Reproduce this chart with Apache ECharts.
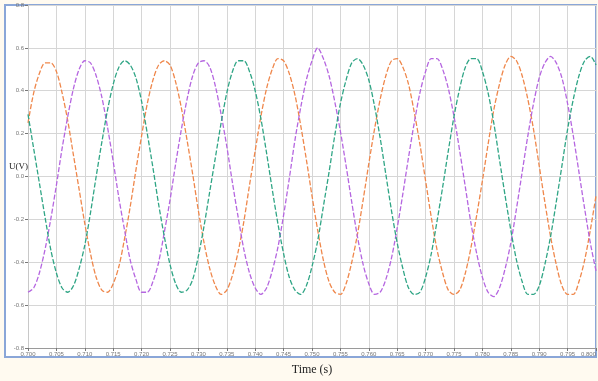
<!DOCTYPE html>
<html>
<head>
<meta charset="utf-8">
<script src="https://cdn.jsdelivr.net/npm/echarts@6/dist/echarts.min.js"></script>
<style>
  html, body { margin: 0; padding: 0; background: #fffaf0; }
  #chart { width: 598px; height: 381px; }
</style>
</head>
<body>
<div id="chart"></div>
<script>
// Sampling: 0.700 s to 0.800 s, one sample per millisecond
const tStart = 0.700;
const tStep = 0.001;
const sampleCount = 101;

// Phase voltages (V)
const phaseA = [
  0.25, 0.39, 0.48, 0.53, 0.53, 0.49, 0.39, 0.26, 0.10, -0.06,
  -0.22, -0.36, -0.47, -0.53, -0.54, -0.50, -0.42, -0.29, -0.14, 0.03,
  0.19, 0.34, 0.45, 0.52, 0.54, 0.52, 0.44, 0.32, 0.17, 0.01,
  -0.16, -0.31, -0.43, -0.51, -0.55, -0.53, -0.46, -0.35, -0.21, -0.04,
  0.12, 0.28, 0.41, 0.50, 0.55, 0.54, 0.48, 0.38, 0.24, 0.08,
  -0.09, -0.25, -0.39, -0.49, -0.54, -0.55, -0.50, -0.40, -0.27, -0.11,
  0.06, 0.22, 0.36, 0.47, 0.54, 0.55, 0.51, 0.43, 0.30, 0.15,
  -0.02, -0.19, -0.34, -0.45, -0.53, -0.55, -0.53, -0.45, -0.33, -0.18,
  -0.02, 0.15, 0.31, 0.43, 0.52, 0.56, 0.54, 0.47, 0.36, 0.22,
  0.05, -0.12, -0.28, -0.41, -0.51, -0.55, -0.55, -0.49, -0.39, -0.25,
  -0.09
];
const phaseB = [
  -0.54, -0.52, -0.45, -0.34, -0.20, -0.04, 0.13, 0.28, 0.41, 0.50,
  0.54, 0.53, 0.47, 0.37, 0.23, 0.07, -0.10, -0.25, -0.39, -0.48,
  -0.54, -0.54, -0.49, -0.40, -0.26, -0.11, 0.06, 0.22, 0.36, 0.47,
  0.53, 0.54, 0.51, 0.42, 0.29, 0.14, -0.03, -0.19, -0.34, -0.45,
  -0.52, -0.55, -0.52, -0.44, -0.33, -0.18, -0.01, 0.17, 0.32, 0.45,
  0.54, 0.60, 0.55, 0.47, 0.35, 0.21, 0.05, -0.12, -0.28, -0.41,
  -0.50, -0.55, -0.54, -0.48, -0.38, -0.24, -0.08, 0.09, 0.25, 0.39,
  0.49, 0.55, 0.55, 0.50, 0.41, 0.28, 0.12, -0.05, -0.22, -0.36,
  -0.47, -0.54, -0.56, -0.52, -0.43, -0.31, -0.15, 0.02, 0.19, 0.34,
  0.46, 0.53, 0.56, 0.53, 0.46, 0.34, 0.19, 0.02, -0.15, -0.31,
  -0.44
];
const phaseC = [
  0.29, 0.13, -0.03, -0.19, -0.34, -0.45, -0.52, -0.54, -0.51, -0.43,
  -0.32, -0.17, 0.00, 0.16, 0.31, 0.43, 0.51, 0.54, 0.52, 0.46,
  0.35, 0.20, 0.04, -0.13, -0.28, -0.41, -0.50, -0.54, -0.53, -0.48,
  -0.37, -0.23, -0.07, 0.09, 0.25, 0.39, 0.49, 0.54, 0.54, 0.49,
  0.40, 0.27, 0.11, -0.06, -0.22, -0.36, -0.47, -0.53, -0.55, -0.51,
  -0.42, -0.30, -0.14, 0.02, 0.19, 0.34, 0.45, 0.53, 0.55, 0.52,
  0.45, 0.33, 0.18, 0.01, -0.16, -0.31, -0.43, -0.52, -0.55, -0.54,
  -0.47, -0.36, -0.21, -0.05, 0.12, 0.28, 0.41, 0.51, 0.55, 0.55,
  0.49, 0.39, 0.25, 0.08, -0.09, -0.25, -0.39, -0.49, -0.55, -0.55,
  -0.51, -0.41, -0.28, -0.12, 0.05, 0.22, 0.36, 0.47, 0.54, 0.56,
  0.52
];

// Axis ranges and tick spacing
const timeMin = 0.700, timeMax = 0.800, timeTick = 0.005;
const voltMin = -0.8, voltMax = 0.8, voltTick = 0.2;
const voltName = 'U(V)';

const times = [];
for (let i = 0; i < sampleCount; i++) times.push(+(tStart + i * tStep).toFixed(3));
const pairs = arr => times.map((t, i) => [t, arr[i]]);

const chart = echarts.init(document.getElementById('chart'));

const lineSeries = (data, color) => ({
  type: 'line',
  data: pairs(data),
  smooth: 0.3,
  showSymbol: false,
  lineStyle: { color: color, width: 1.3, type: [5, 2] },
  z: 3
});

chart.setOption({
  backgroundColor: '#fffaf0',
  animation: false,
  graphic: [{
    type: 'rect',
    shape: { x: 5, y: 5, width: 591, height: 352 },
    style: { fill: '#ffffff', stroke: '#8aa6d8', lineWidth: 2 },
    z: -10
  }, {
    // vertical axis title, set horizontally beside the scale
    type: 'text',
    left: 9,
    top: 162,
    style: { text: voltName, font: '9px "Liberation Serif"', fill: '#222' },
    z: 10
  }],
  grid: { left: 28, right: 2, top: 5, bottom: 33, outerBoundsMode: 'none', containLabel: false },
  xAxis: {
    type: 'value',
    min: timeMin, max: timeMax, interval: timeTick,
    name: 'Time (s)',
    nameLocation: 'middle',
    nameGap: 16,
    nameTextStyle: { fontFamily: 'Liberation Serif', fontSize: 12, color: '#222' },
    axisLine: { onZero: false, lineStyle: { color: '#9a9a9a' } },
    axisTick: { length: 3, lineStyle: { color: '#777' } },
    axisLabel: {
      fontSize: 6, color: '#777', margin: 3,
      alignMaxLabel: 'right',
      formatter: v => v.toFixed(3)
    },
    splitLine: { show: true, lineStyle: { color: '#d6d6d6', width: 1 } }
  },
  yAxis: {
    type: 'value',
    min: voltMin, max: voltMax, interval: voltTick,
    axisLine: { show: true, onZero: false, lineStyle: { color: '#c8c8c8' } },
    axisTick: { length: 3, lineStyle: { color: '#777' } },
    axisLabel: {
      fontSize: 6, color: '#777', margin: 4,
      formatter: v => v.toFixed(1)
    },
    splitLine: { show: true, lineStyle: { color: '#d6d6d6', width: 1 } }
  },
  series: [
    lineSeries(phaseA, '#ef874b'),
    lineSeries(phaseB, '#b566e0'),
    lineSeries(phaseC, '#2fa585')
  ]
});
</script>
</body>
</html>
